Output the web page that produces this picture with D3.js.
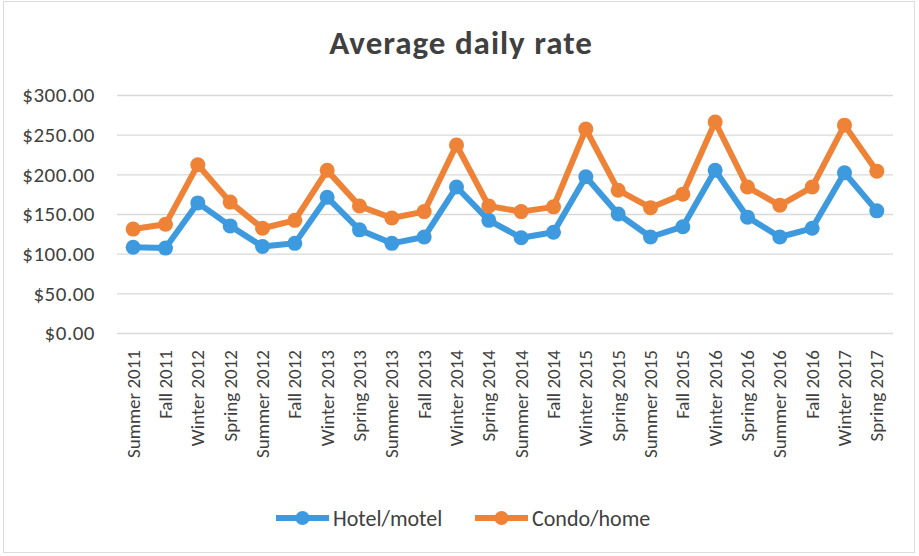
<!DOCTYPE html>
<html>
<head>
<meta charset="utf-8">
<script src="https://cdn.jsdelivr.net/npm/d3@7"></script>
<style>
  body { margin: 0; background: #fff; }
  svg text { font-family: Carlito, Lato, "Open Sans", sans-serif; fill: #404040; }
</style>
</head>
<body>
<div id="chart"></div>
<script>
"use strict";

// categories along x
var seasons = [
  "Summer 2011", "Fall 2011", "Winter 2012", "Spring 2012",
  "Summer 2012", "Fall 2012", "Winter 2013", "Spring 2013",
  "Summer 2013", "Fall 2013", "Winter 2014", "Spring 2014",
  "Summer 2014", "Fall 2014", "Winter 2015", "Spring 2015",
  "Summer 2015", "Fall 2015", "Winter 2016", "Spring 2016",
  "Summer 2016", "Fall 2016", "Winter 2017", "Spring 2017"
];

// values
var hotelRates = [108, 107, 164, 135, 109, 113, 171, 130, 113, 121, 184, 142,
                  120, 127, 197, 150, 121, 134, 205, 146, 121, 132, 202, 154];
var condoRates = [131, 137, 212, 165, 132, 142, 205, 160, 145, 153, 237, 160,
                  153, 159, 257, 180, 158, 175, 266, 184, 161, 184, 262, 204];

var yTicks = [0, 50, 100, 150, 200, 250, 300];
var seriesNames = ["Hotel/motel", "Condo/home"];
var seriesColors = ["#3d9ade", "#ee8236"];

var width = 919, height = 556;
var margin = {top: 95, right: 26, bottom: 223, left: 117};

var svg = d3.select("#chart").append("svg")
  .attr("width", width)
  .attr("height", height);

// outer frame
svg.append("rect")
  .attr("x", 3.5).attr("y", 1.5)
  .attr("width", 911).attr("height", 551)
  .attr("fill", "#fff")
  .attr("stroke", "#dcdcdc");

svg.append("text")
  .attr("x", 461).attr("y", 54)
  .attr("text-anchor", "middle")
  .style("font-size", "33px")
  .style("font-weight", "bold")
  .style("letter-spacing", "1px")
  .text("Average daily rate");

var x = d3.scaleBand()
  .domain(seasons)
  .range([margin.left, width - margin.right]);

var y = d3.scaleLinear()
  .domain([0, 300])
  .range([height - margin.bottom, margin.top]);

// gridlines + y labels
var yAxis = svg.append("g")
  .attr("transform", "translate(" + margin.left + ",0)")
  .call(d3.axisLeft(y)
    .tickValues(yTicks)
    .tickSize(-(width - margin.left - margin.right))
    .tickPadding(22)
    .tickFormat(function(v){ return "$" + d3.format(".2f")(v) }));
yAxis.select(".domain").remove();
yAxis.selectAll(".tick line").attr("stroke", "#d9d9d9").attr("stroke-width", 1.3);
yAxis.selectAll(".tick text")
  .style("font-size", "21px")
  .style("letter-spacing", "0.5px")
  .attr("fill", "#404040");

// x labels, rotated
var xAxis = svg.append("g")
  .attr("transform", "translate(0," + (height - margin.bottom) + ")")
  .call(d3.axisBottom(x).tickSize(0).tickPadding(0));
xAxis.select(".domain").remove();
xAxis.selectAll(".tick text")
  .style("font-size", "19px")
  .attr("fill", "#404040")
  .attr("transform", "rotate(-90)")
  .attr("text-anchor", "end")
  .attr("x", -17)
  .attr("y", 0)
  .attr("dy", "0.35em");

var line = d3.line()
  .x(function(d, i){ return x(seasons[i]) + x.bandwidth() / 2 })
  .y(function(d){ return y(d) });

[hotelRates, condoRates].forEach(function(series, s){
  svg.append("path")
    .datum(series)
    .attr("fill", "none")
    .attr("stroke", seriesColors[s])
    .attr("stroke-width", 6)
    .attr("stroke-linejoin", "round")
    .attr("d", line);

  svg.selectAll(".dot" + s)
    .data(series)
    .enter().append("circle")
    .attr("class", "dot" + s)
    .attr("cx", function(d, i){ return x(seasons[i]) + x.bandwidth() / 2 })
    .attr("cy", function(d){ return y(d) })
    .attr("r", 7.5)
    .attr("fill", seriesColors[s]);
});

// legend
var legendX = [276, 475];
seriesNames.forEach(function(name, s){
  var g = svg.append("g").attr("transform", "translate(" + legendX[s] + ",518)");
  g.append("line")
    .attr("x1", 0).attr("x2", 53)
    .attr("stroke", seriesColors[s])
    .attr("stroke-width", 6);
  g.append("circle")
    .attr("cx", 26.5).attr("r", 7)
    .attr("fill", seriesColors[s]);
  g.append("text")
    .attr("x", 57).attr("dy", "0.35em")
    .style("font-size", "22px")
    .text(name);
});
</script>
</body>
</html>
